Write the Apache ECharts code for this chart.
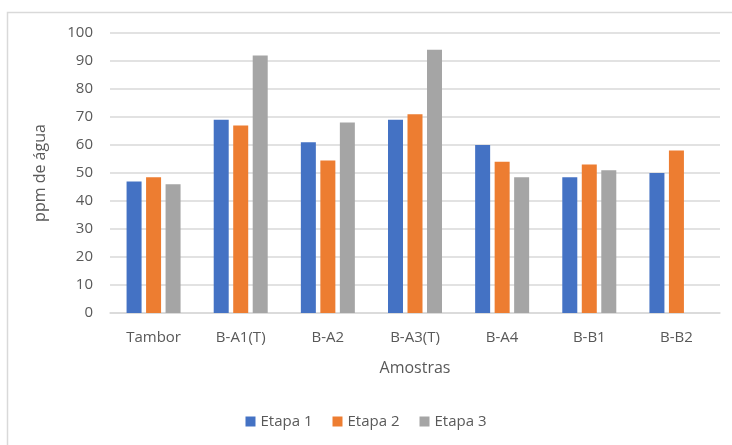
<!DOCTYPE html>
<html>
<head>
<meta charset="utf-8">
<script src="https://cdn.jsdelivr.net/npm/echarts@6/dist/echarts.min.js"></script>
<style>
  html, body { margin: 0; padding: 0; background: #fff; }
  #chart { width: 732px; height: 445px; }
</style>
</head>
<body>
<div id="chart"></div>
<script>
// Water content (ppm) per sample, for each stage
const categories = ['Tambor', 'B-A1(T)', 'B-A2', 'B-A3(T)', 'B-A4', 'B-B1', 'B-B2'];
const etapa1 = [47, 69, 61, 69, 60, 48.5, 50];
const etapa2 = [48.5, 67, 54.5, 71, 54, 53, 58];
const etapa3 = [46, 92, 68, 94, 48.5, 51, null];
const yTicks = [0, 10, 20, 30, 40, 50, 60, 70, 80, 90, 100];

const font = '"Open Sans", "Liberation Sans", sans-serif';
const textColor = '#595959';

const chart = echarts.init(document.getElementById('chart'), null, { renderer: 'canvas' });

function barSeries(name, data, color) {
  return {
    name: name,
    type: 'bar',
    data: data,
    barWidth: 15,
    barGap: '30%',
    itemStyle: { color: color },
    emphasis: { disabled: true }
  };
}

chart.setOption({
  animation: false,
  backgroundColor: '#ffffff',
  graphic: [{
    type: 'rect',
    shape: { x: 7.5, y: 12.5, width: 760, height: 460 },
    style: { fill: 'none', stroke: '#d9d9d9', lineWidth: 1.5 },
    silent: true
  }],
  grid: { left: 110, right: 12, top: 33, bottom: 132 },
  legend: {
    bottom: 11,
    left: 'center',
    itemWidth: 10,
    itemHeight: 10,
    itemGap: 20,
    icon: 'rect',
    textStyle: { color: textColor, fontSize: 15, fontFamily: font }
  },
  xAxis: {
    type: 'category',
    data: categories,
    name: 'Amostras',
    nameLocation: 'middle',
    nameGap: 47,
    nameTextStyle: { color: textColor, fontSize: 16, fontFamily: font },
    axisLine: { lineStyle: { color: '#d9d9d9', width: 1.5 } },
    axisTick: { show: false },
    axisLabel: { color: textColor, fontSize: 15, fontFamily: font, margin: 17 }
  },
  yAxis: {
    type: 'value',
    min: yTicks[0],
    max: yTicks[yTicks.length - 1],
    interval: yTicks[1] - yTicks[0],
    name: 'ppm de água',
    nameLocation: 'middle',
    nameGap: 62,
    nameTextStyle: { color: textColor, fontSize: 16, fontFamily: font },
    axisLine: { show: false },
    axisTick: { show: false },
    axisLabel: { color: textColor, fontSize: 15, fontFamily: font, margin: 17 },
    splitLine: { lineStyle: { color: '#d9d9d9', width: 1.5 } }
  },
  series: [
    barSeries('Etapa 1', etapa1, '#4472c4'),
    barSeries('Etapa 2', etapa2, '#ed7d31'),
    barSeries('Etapa 3', etapa3, '#a5a5a5')
  ]
});
</script>
</body>
</html>
